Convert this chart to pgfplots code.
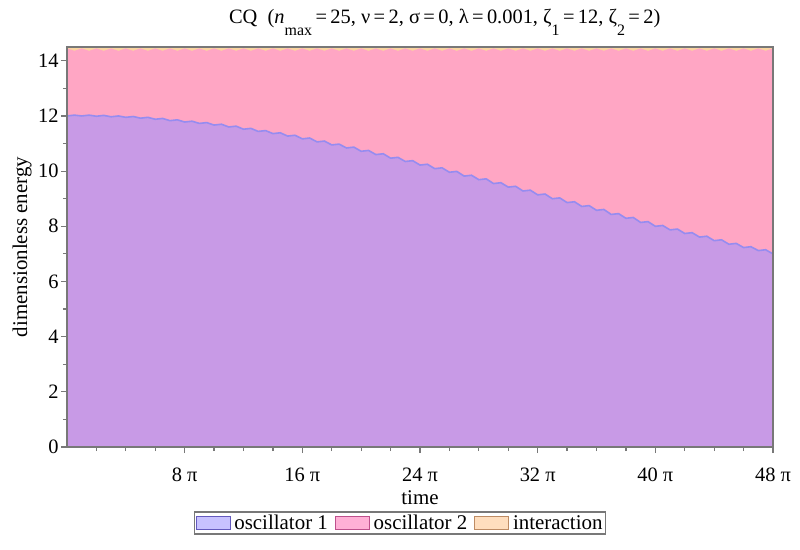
\documentclass[border=0pt]{standalone}
\usepackage{fontspec}
\setmainfont{Liberation Serif}
\usepackage{pgfplots}
\usepackage{pgfplotstable}
\pgfplotsset{compat=1.18}

\definecolor{axisgray}{RGB}{120,120,120}
\definecolor{oneA}{RGB}{200,154,230}
\definecolor{oneL}{RGB}{150,140,240}
\definecolor{twoA}{RGB}{255,166,196}
\definecolor{intA}{RGB}{250,212,160}
\definecolor{oneK}{RGB}{200,194,255}
\definecolor{oneD}{RGB}{100,90,190}
\definecolor{twoK}{RGB}{255,176,214}
\definecolor{twoD}{RGB}{190,80,140}
\definecolor{intK}{RGB}{255,222,190}
\definecolor{intD}{RGB}{190,140,100}

\newcommand\sub[1]{\raisebox{-0.6em}{\fontsize{16}{16}\selectfont #1}}

% t in units of pi, e1 = oscillator 1, top = oscillator 1 + oscillator 2
\pgfplotstableread{
t e1 top
0 12.00 14.45
0.5 12.03 14.36
1 12.00 14.45
1.5 12.03 14.36
2 11.99 14.45
2.5 12.02 14.36
3 11.97 14.45
3.5 12.00 14.36
4 11.95 14.45
4.5 11.98 14.36
5 11.92 14.45
5.5 11.95 14.36
6 11.88 14.45
6.5 11.91 14.36
7 11.83 14.45
7.5 11.86 14.36
8 11.78 14.45
8.5 11.81 14.36
9 11.73 14.45
9.5 11.76 14.36
10 11.67 14.45
10.5 11.70 14.36
11 11.60 14.45
11.5 11.63 14.36
12 11.52 14.45
12.5 11.55 14.36
13 11.44 14.45
13.5 11.47 14.36
14 11.36 14.45
14.5 11.39 14.36
15 11.27 14.45
15.5 11.30 14.36
16 11.17 14.45
16.5 11.20 14.36
17 11.06 14.45
17.5 11.09 14.36
18 10.95 14.45
18.5 10.98 14.36
19 10.84 14.45
19.5 10.87 14.36
20 10.72 14.45
20.5 10.75 14.36
21 10.60 14.45
21.5 10.63 14.36
22 10.47 14.45
22.5 10.50 14.36
23 10.35 14.45
23.5 10.38 14.36
24 10.22 14.45
24.5 10.25 14.36
25 10.09 14.45
25.5 10.12 14.36
26 9.96 14.45
26.5 9.99 14.36
27 9.82 14.45
27.5 9.85 14.36
28 9.69 14.45
28.5 9.72 14.36
29 9.55 14.45
29.5 9.58 14.36
30 9.42 14.45
30.5 9.45 14.36
31 9.28 14.45
31.5 9.31 14.36
32 9.14 14.45
32.5 9.17 14.36
33 9.00 14.45
33.5 9.03 14.36
34 8.86 14.45
34.5 8.89 14.36
35 8.72 14.45
35.5 8.75 14.36
36 8.58 14.45
36.5 8.61 14.36
37 8.43 14.45
37.5 8.46 14.36
38 8.29 14.45
38.5 8.32 14.36
39 8.14 14.45
39.5 8.17 14.36
40 8.00 14.45
40.5 8.03 14.36
41 7.87 14.45
41.5 7.90 14.36
42 7.74 14.45
42.5 7.77 14.36
43 7.61 14.45
43.5 7.64 14.36
44 7.48 14.45
44.5 7.51 14.36
45 7.35 14.45
45.5 7.38 14.36
46 7.23 14.45
46.5 7.26 14.36
47 7.12 14.45
47.5 7.15 14.36
48 7.00 14.45
}\energy

\begin{document}
\begin{tikzpicture}
\path[use as bounding box] (0,0) rectangle (800bp,550bp);
\begin{axis}[
    at={(67bp,103bp)}, anchor=south west,
    scale only axis, width=706bp, height=400bp,
    xmin=0, xmax=48, ymin=0, ymax=14.5,
    axis on top,
    axis line style={draw=axisgray, line width=1.6bp},
    xtick={8,16,...,48}, minor xtick={2,4,...,46},
    ytick={0,2,...,14}, minor ytick={1,3,...,13},
    xtick pos=bottom, ytick pos=left, tick align=outside,
    major tick length=6bp, minor tick length=4bp,
    tick style={draw=axisgray, line width=1.2bp},
    /pgf/number format/assume math mode=true,
    xticklabel={\pgfmathprintnumber{\tick}\ π},
    ticklabel style={font=\fontsize{20.5}{22}\selectfont},
    xticklabel style={yshift=-11bp},
    yticklabel style={xshift=1bp},
    xlabel={time}, ylabel={dimensionless energy},
    label style={font=\fontsize{21}{24}\selectfont},
    xlabel style={at={(axis description cs:0.5,0)}, anchor=base, yshift=-57bp},
    ylabel style={at={(axis description cs:-0.0637,0.5)}, anchor=center},
    title={CQ\ \ (\textit{n}\sub{max}\,=\,25, ν\,=\,2, σ\,=\,0, λ\,=\,0.001, ζ\sub{1}\,=\,12, ζ\sub{2}\,=\,2)},
    title style={font=\fontsize{20.5}{23}\selectfont, at={(0.535,1)}, anchor=base, yshift=18bp},
    legend image code/.code={\draw[#1, line width=0.8bp] (0bp,-6bp) rectangle (34bp,7bp);},
    legend style={at={(0.4717,-0.19)}, anchor=center, draw=axisgray, line width=1.2bp,
        font=\fontsize{21}{24}\selectfont, inner sep=1bp,
        /tikz/every even column/.append style={column sep=5bp},
        /tikz/every odd column/.append style={column sep=2bp}},
    legend columns=3,
]
\addplot[fill=intA, draw=none, forget plot] coordinates {(0,14.5) (48,14.5)} \closedcycle;
\addplot[fill=twoA, draw=none, forget plot] table[x=t, y=top] {\energy} \closedcycle;
\addplot[fill=oneA, draw=none, forget plot] table[x=t, y=e1] {\energy} \closedcycle;
\addplot[draw=oneL, line width=1.6bp, forget plot] table[x=t, y=e1] {\energy};
\addlegendimage{fill=oneK, draw=oneD}
\addlegendentry{oscillator 1}
\addlegendimage{fill=twoK, draw=twoD}
\addlegendentry{oscillator 2}
\addlegendimage{fill=intK, draw=intD}
\addlegendentry{interaction}
\end{axis}
\end{tikzpicture}
\end{document}
